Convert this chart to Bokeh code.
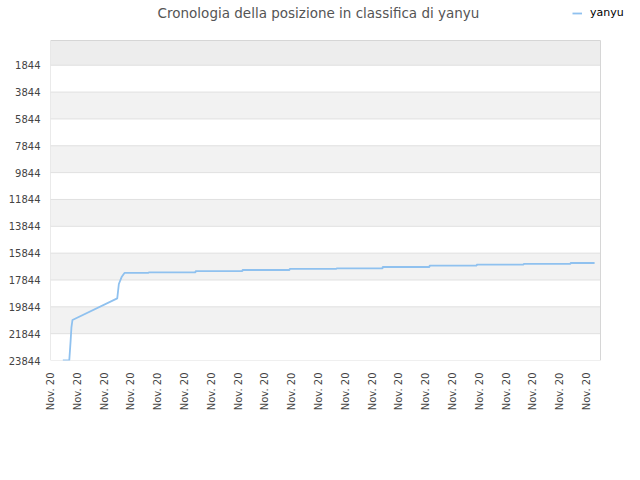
from bokeh.plotting import figure
from bokeh.models import Range1d, FixedTicker, BoxAnnotation, Legend, LegendItem, Label
from bokeh.embed import file_html
from bokeh.resources import INLINE

# ---- data ----
title_text = "Cronologia della posizione in classifica di yanyu"
series_name = "yanyu"
x_tick_labels = ["Nov. 20"] * 21
y_ticks = [1844, 3844, 5844, 7844, 9844, 11844, 13844, 15844, 17844, 19844, 21844, 23844]

early_t = [0.46, 0.70, 0.75, 0.78, 0.82, 2.49, 2.55, 2.66, 2.76]
early_rank = [23844, 23844, 22400, 21400, 20824, 19215, 18142, 17600, 17322]
step_t = [3.66, 5.41, 7.16, 8.92, 10.67, 12.39, 14.14, 15.90, 17.65, 19.40]
step_rank = [17278, 17188, 17099, 17024, 16980, 16876, 16779, 16704, 16645, 16578]
end_t = 20.30

# build step line points
xs = list(early_t)
ys = list(early_rank)
prev = early_rank[-1]
for t, r in zip(step_t, step_rank):
    xs += [t, t]
    ys += [prev, r]
    prev = r
xs.append(end_t)
ys.append(prev)

# plot area geometry (pixels); the frame is extended up and right so that the
# title and legend, drawn inside it, are not clipped
W, H = 640, 480
left_px, right_px, top_px, bottom_px = 50, 600, 40, 360
x_plot_max = 20.52
y_min, y_max = 0, 23844
x_per_px = x_plot_max / (right_px - left_px)
y_per_px = (y_max - y_min) / (bottom_px - top_px)
x_end = x_plot_max + (W - right_px) * x_per_px
y_end = y_min - top_px * y_per_px

p = figure(width=W, height=H, output_backend="svg", toolbar_location=None,
           x_range=Range1d(0, x_end), y_range=Range1d(y_max, y_end),
           min_border_left=left_px, min_border_right=0, min_border_top=0,
           min_border_bottom=H - bottom_px)

p.background_fill_color = "white"
p.border_fill_color = "white"
p.outline_line_color = None

# bands
bounds = [y_min] + y_ticks
for i in range(len(bounds) - 1):
    if i % 2 == 0:
        col = "#ededed" if i == 0 else "#f2f2f2"
        p.add_layout(BoxAnnotation(left=0, right=x_plot_max, bottom=bounds[i], top=bounds[i + 1],
                                   fill_color=col, fill_alpha=1, line_color=None, level="image"))

# grid lines
p.segment(x0=[0] * len(y_ticks), x1=[x_plot_max] * len(y_ticks), y0=y_ticks, y1=y_ticks,
          line_color="#e0e0e0", line_width=1, level="underlay")

# plot border
p.segment(x0=[0, x_plot_max, 0], x1=[0, x_plot_max, x_plot_max],
          y0=[y_min, y_min, y_min], y1=[y_max, y_max, y_min],
          line_color="#d6d6d6", line_width=1, level="underlay")

r = p.line(xs, ys, line_color="#8fc1ef", line_width=1.8)

# axes
p.xaxis.ticker = FixedTicker(ticks=list(range(len(x_tick_labels))))
p.xaxis.major_label_overrides = {i: lab for i, lab in enumerate(x_tick_labels)}
p.xaxis.major_label_orientation = 1.5708
p.yaxis.ticker = FixedTicker(ticks=y_ticks)
for ax in (p.xaxis, p.yaxis):
    ax.axis_line_color = None
    ax.major_tick_line_color = None
    ax.minor_tick_line_color = None
    ax.major_tick_out = 0
    ax.major_tick_in = 0
    ax.major_label_text_font = "DejaVu Sans"
    ax.major_label_text_font_size = "10px"
    ax.major_label_text_color = "#444444"
p.xaxis.major_label_standoff = 12
p.yaxis.major_label_standoff = 10

p.xgrid.grid_line_color = None
p.ygrid.grid_line_color = None

# title (screen units relative to the frame's bottom-left)
p.add_layout(Label(x=268, y=348, x_units="screen", y_units="screen", text=title_text,
                   text_align="center", text_baseline="middle",
                   text_font="DejaVu Sans", text_font_size="13.5px",
                   text_color="#555555"))

# legend
legend = Legend(items=[LegendItem(label=series_name, renderers=[r])],
                location=(522, 341), orientation="horizontal",
                glyph_width=10, glyph_height=12, label_height=12, label_standoff=8,
                padding=0, margin=0, spacing=0,
                label_text_font="DejaVu Sans", label_text_font_size="11px",
                label_text_color="#000000",
                border_line_color=None, background_fill_alpha=0)
p.add_layout(legend, "center")

open("out.html", "w").write(file_html(p, INLINE))
